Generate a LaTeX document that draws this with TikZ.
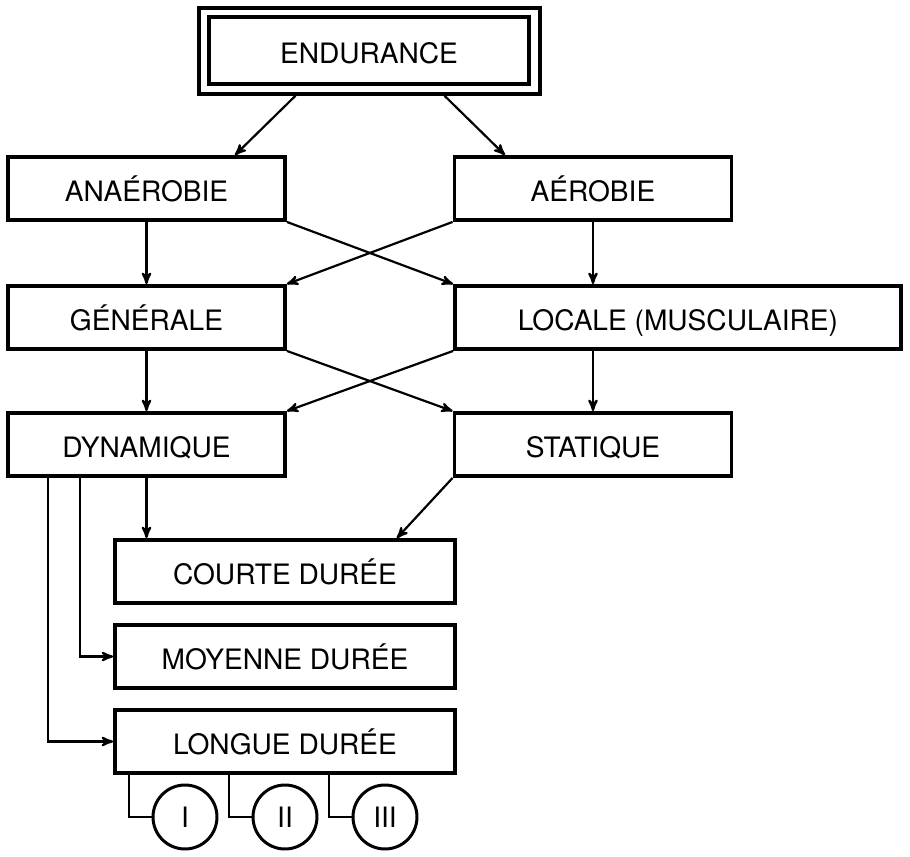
\documentclass[tikz,border=0pt]{standalone}
\usepackage{fontspec}
\setmainfont{TeX Gyre Heros}
\usepackage{tikz}
\usetikzlibrary{calc}
\usetikzlibrary{arrows}

\begin{document}
\begin{tikzpicture} [x=.02cm, y=-.02cm, >=stealth',
  box/.style={draw, line width=2.2pt, minimum width=5.54cm, minimum height=1.26cm, inner sep=0pt,
    text height=14.8pt, text depth=0pt, font=\fontsize{16}{18}\selectfont},
  widebox/.style={box, minimum width=8.92cm},
  durbox/.style={box, minimum width=6.8cm},
  rond/.style={draw, circle, line width=1.7pt, minimum size=1.28cm, inner sep=0pt, font=\fontsize{16}{18}\selectfont},
  fleche/.style={->, line width=1.25pt},
  lien/.style={line width=1.25pt}]
\useasboundingbox (0,0) rectangle (910,856);
\node[box, minimum width=6.4cm, minimum height=1.34cm] (endur) at (369,50.5) {ENDURANCE};
\node[draw, line width=2pt, minimum width=6.82cm, minimum height=1.72cm] (endo) at (369.5,51) {};
\node[box] (anaer) at (146.5,188.5) {ANAÉROBIE};
\node[box] (aer) at (593,188.5) {AÉROBIE};
\node[box] (gen) at (146.5,317.5) {GÉNÉRALE};
\node[widebox] (loc) at (678,317.5) {LOCALE (MUSCULAIRE)};
\node[box] (dyn) at (146.5,444.5) {DYNAMIQUE};
\node[box] (stat) at (593,444.5) {STATIQUE};
\node[durbox] (court) at (285,571.5) {COURTE DURÉE};
\node[durbox] (moy) at (285,656.5) {MOYENNE DURÉE};
\node[durbox] (longue) at (285,741.5) {LONGUE DURÉE};
\foreach \n/\t [count=\i] in {c1/I, c2/II, c3/III}
  \node[rond] (\n) at (85+100*\i,817) {\t};

\draw[fleche] ($(endo.south)+(-74,0)$) -- ($(anaer.north)+(88.5,0)$);
\draw[fleche] ($(endo.south)+(75,0)$) -- ($(aer.north)+(-88,0)$);
\draw[fleche] (anaer.south) -- (gen.north);
\draw[fleche] (aer.south) -- (aer.south |- loc.north);
\draw[fleche] (anaer.south east) -- (loc.north west);
\draw[fleche] (aer.south west) -- (gen.north east);
\draw[fleche] (gen.south) -- (dyn.north);
\draw[fleche] (stat.north |- loc.south) -- (stat.north);
\draw[fleche] (gen.south east) -- (stat.north west);
\draw[fleche] (loc.south west) -- (dyn.north east);
\draw[fleche] (dyn.south) -- (dyn.south |- court.north);
\draw[fleche] (stat.south west) -- ($(court.north east)+(-60,0)$);
\draw[fleche] ($(dyn.south west)+(74,0)$) |- (moy.west);
\draw[fleche] ($(dyn.south west)+(42,0)$) |- (longue.west);
\foreach \n/\dx in {c1/16, c2/116, c3/216}
  \draw[lien] ($(longue.south west)+(\dx,0)$) |- (\n.west);
\end{tikzpicture}
\end{document}
